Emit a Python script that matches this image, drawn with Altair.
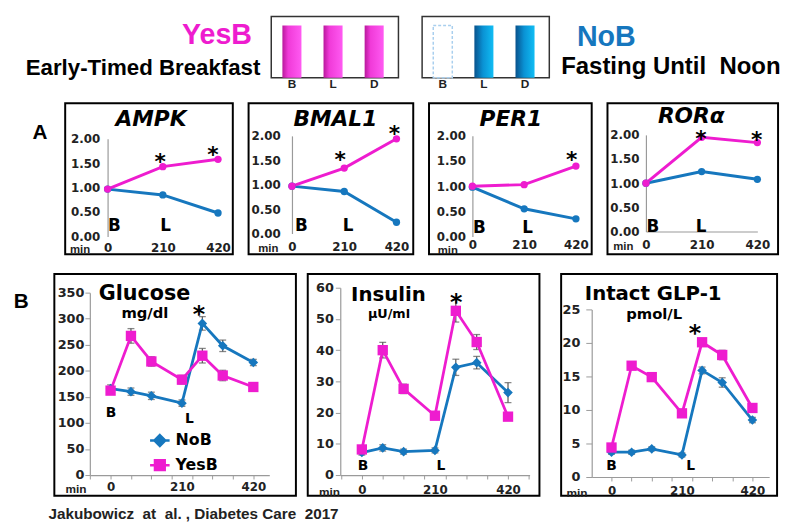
import altair as alt
import pandas as pd

MAGENTA = "#EE1CCF"
BLUE = "#1677BE"
AXIS_GRAY = "#9a9a9a"
DARK = "#222222"
SANS = "DejaVu Sans"
ARIAL = "Liberation Sans"

# ---------------- header data ----------------
meal_names = ["B", "L", "D"]
yes_meals = ["B", "L", "D"]
no_meals = ["L", "D"]
no_skipped = ["B"]

# ---------------- panel A data ----------------
a_times = [0, 210, 420]
a_ticks = [0, 0.5, 1.0, 1.5, 2.0]
ampk_yes = [0.97, 1.43, 1.58]
ampk_no = [0.97, 0.85, 0.48]
bmal1_yes = [0.97, 1.34, 1.94]
bmal1_no = [0.97, 0.86, 0.23]
per1_yes = [1.00, 1.03, 1.40]
per1_no = [0.98, 0.55, 0.35]
rora_yes = [1.00, 1.95, 1.84]
rora_no = [1.00, 1.24, 1.08]
ampk_star_t, ampk_star_v = [200, 401], [1.62, 1.76]
bmal1_star_t, bmal1_star_v = [194, 412], [1.60, 2.14]
per1_star_t, per1_star_v = [403], [1.61]
rora_star_t, rora_star_v = [207, 417], [2.01, 1.99]
meal_marks = ["B", "L"]
ampk_lab_t, ampk_lab_v = [26, 221], [0.22, 0.22]
bmal1_lab_t, bmal1_lab_v = [38, 226], [0.15, 0.15]
per1_lab_t, per1_lab_v = [28, 224], [0.16, 0.16]
rora_lab_t, rora_lab_v = [26, 208], [0.10, 0.10]

# ---------------- panel B data ----------------
b_times = [0, 60, 120, 210, 270, 330, 420]
b_tick_values = [-60, 0, 60, 120, 180, 210, 240, 300, 360, 420, 480]
glu_yes = [162, 267, 218, 183, 229, 191, 169]
glu_yes_err = [7, 14, 9, 8, 14, 10, 6]
glu_no = [166, 160, 152, 138, 291, 248, 216]
glu_no_err = [7, 7, 7, 6, 13, 11, 6]
ins_yes = [8.2, 40.0, 27.6, 19.0, 52.6, 42.6, 18.7]
ins_yes_err = [1.0, 2.5, 1.5, 1.0, 3.6, 2.4, 1.0]
ins_no = [7.2, 8.7, 7.5, 7.9, 34.5, 36.0, 26.4]
ins_no_err = [0.8, 1.0, 0.8, 0.8, 2.6, 2.0, 3.2]
glp_yes = [4.4, 16.6, 14.9, 9.5, 20.1, 18.2, 10.3]
glp_yes_err = [0.5, 0.5, 0.5, 0.5, 0.5, 0.7, 0.5]
glp_no = [3.7, 3.7, 4.2, 3.3, 15.9, 14.1, 8.5]
glp_no_err = [0.3, 0.3, 0.3, 0.3, 0.5, 0.7, 0.4]
glu_ticks = [0, 50, 100, 150, 200, 250, 300, 350]
ins_ticks = [0, 10, 20, 30, 40, 50, 60]
glp_ticks = [0, 5, 10, 15, 20, 25]
glu_star_t, glu_star_v = [260], [320]
ins_star_t, ins_star_v = [271], [57.4]
glp_star_t, glp_star_v = [249], [22.4]
glu_lab_t, glu_lab_v = [1, 232], [119, 108]
ins_lab_t, ins_lab_v = [3, 227], [2.9, 2.9]
glp_lab_t, glp_lab_v = [0, 236], [1.7, 1.7]
series = ["NoB", "YesB"]

# ---------------- helpers ----------------
BOX = alt.ViewBackground(stroke="black", strokeWidth=2)
IND = dict(fill="independent", stroke="independent", shape="independent")


def indep(c):
    return c.resolve_scale(**IND).resolve_legend(**IND)


def txt(s, x, y, size, font=SANS, weight="bold", color="black", align="left",
        baseline="alphabetic", style="normal"):
    return alt.Chart(pd.DataFrame({"s": [s]})).mark_text(
        font=font, fontSize=size, fontWeight=weight, color=color, align=align,
        baseline=baseline, fontStyle=style
    ).encode(text="s:N", x=alt.value(x), y=alt.value(y))


def color_scale():
    return alt.Scale(domain=series, range=[BLUE, MAGENTA])


def panel_a(title, yes, no, star_t, star_v, lab_t, lab_v, g):
    xs = alt.Scale(domain=[0, 420], range=[g["x0"], g["x1"]], nice=False, zero=False)
    ys = alt.Scale(domain=[0, 2], range=[g["y0"], g["y2"]], nice=False, zero=False)
    xax = alt.Axis(values=a_times, title=None, grid=False, ticks=False, tickSize=0,
                   domain=g["xdomain"], domainColor=AXIS_GRAY, domainWidth=1.2,
                   offset=-(g["H"] - g["y0"]), labelPadding=g["xpad"], labelFont=SANS,
                   labelFontWeight="bold", labelFontSize=12, labelColor=DARK,
                   labelFlush=False, labelOverlap=False)
    yax = alt.Axis(values=a_ticks, format=".2f", title=None, grid=False, ticks=False,
                   tickSize=0, domainColor=AXIS_GRAY, domainWidth=1.2, offset=-g["ax"],
                   labelPadding=g["ypad"], labelFont=SANS, labelFontWeight="bold",
                   labelFontSize=12, labelColor=DARK, labelOverlap=False, labelFlush=False)
    X = alt.X("t:Q", scale=xs, axis=xax)
    Y = alt.Y("v:Q", scale=ys, axis=yax)
    df = pd.DataFrame({"t": a_times + a_times, "v": no + yes,
                       "s": ["NoB"] * 3 + ["YesB"] * 3})
    col = alt.Color("s:N", scale=color_scale(), legend=None)
    lines = alt.Chart(df).mark_line(strokeWidth=3).encode(X, Y, col)
    pts = alt.Chart(df).mark_circle(size=55, opacity=1).encode(X, Y, col)
    stars = alt.Chart(pd.DataFrame({"t": star_t, "v": star_v})).mark_text(
        text="*", font=SANS, fontWeight="bold", fontSize=22, baseline="alphabetic",
        dy=12, color="black").encode(X, Y)
    labs = alt.Chart(pd.DataFrame({"t": lab_t, "v": lab_v, "txt": meal_marks})).mark_text(
        font=SANS, fontWeight="bold", fontSize=17, baseline="middle", color="black"
    ).encode(X, Y, text="txt:N")
    ttl = txt(title, g["tx"], g["ty"], 22, align="center", style="italic")
    mn = txt("min", g["minx"], g["miny"], 11.5, font=ARIAL, color=DARK, align="center",
             baseline="middle")
    return alt.layer(lines, pts, stars, labs, ttl, mn).properties(
        width=g["W"], height=g["H"], view=BOX)


DIAMOND_PATH = "M-1.8,0H1.8M0,-1L1,0L0,1L-1,0Z"
SQUARE_PATH = "M-1.8,0H1.8M-0.9,-0.9H0.9V0.9H-0.9Z"


def panel_b(heads, yes, yes_err, no, no_err, ydom, yvals, star_t, star_v,
            lab_t, lab_v, g, legend=None):
    xs = alt.Scale(domain=g["xdom"], range=[g["ax"], g["xend"]], nice=False, zero=False)
    ys = alt.Scale(domain=ydom, range=[g["y0"], g["ytop"]], nice=False, zero=False)
    tv = [v for v in b_tick_values if g["xdom"][0] <= v <= g["xdom"][1]]
    xax = alt.Axis(values=tv, title=None, grid=False, tickSize=4, tickColor=AXIS_GRAY,
                   tickOpacity={"condition": {"test": "datum.value == 210", "value": 0},
                                "value": 1},
                   domainColor=AXIS_GRAY, domainWidth=1.2, offset=-(g["H"] - g["y0"]),
                   labelPadding=g["xpad"], labelFont=SANS, labelFontWeight="bold",
                   labelFontSize=12, labelColor=DARK, labelFlush=False, labelOverlap=False,
                   labelExpr="datum.value == 0 || datum.value == 210 || datum.value == 420 ? datum.label : ''")
    yax = alt.Axis(values=yvals, title=None, grid=False, tickSize=g["ytick"],
                   tickColor=AXIS_GRAY, domainColor=AXIS_GRAY, domainWidth=1.2,
                   offset=-g["ax"], labelPadding=g["ypad"], labelFont=SANS,
                   labelFontWeight="bold", labelFontSize=13, labelColor=DARK,
                   labelOverlap=False, labelFlush=False)
    X = alt.X("t:Q", scale=xs, axis=xax)
    Y = alt.Y("v:Q", scale=ys, axis=yax)
    n = len(b_times)
    df = pd.DataFrame({"t": b_times + b_times, "v": no + yes, "e": no_err + yes_err,
                       "s": ["NoB"] * n + ["YesB"] * n})
    base = alt.Chart(df).transform_calculate(lo="datum.v - datum.e", hi="datum.v + datum.e")
    err = base.mark_rule(color="#555", strokeWidth=1.2).encode(
        X, alt.Y("lo:Q", scale=ys, axis=yax), y2="hi:Q")
    caps = base.transform_fold(["lo", "hi"], as_=["k", "cap"]).mark_tick(
        orient="horizontal", size=7, thickness=1.3, color="#555").encode(
        X, alt.Y("cap:Q", scale=ys, axis=yax))
    lines = alt.Chart(df).mark_line(strokeWidth=2.8).encode(
        X, Y, alt.Color("s:N", scale=color_scale(), legend=None))
    p_no = alt.Chart(df).transform_filter("datum.s == 'NoB'").mark_point(
        shape="diamond", filled=True, size=95, color=BLUE, opacity=1).encode(X, Y)
    p_yes = alt.Chart(df).transform_filter("datum.s == 'YesB'").mark_square(
        size=110, color=MAGENTA, opacity=1).encode(X, Y)
    stars = alt.Chart(pd.DataFrame({"t": star_t, "v": star_v})).mark_text(
        text="*", font=SANS, fontWeight="bold", fontSize=24, baseline="alphabetic",
        dy=14, color="black").encode(X, Y)
    labs = alt.Chart(pd.DataFrame({"t": lab_t, "v": lab_v, "txt": meal_marks})).mark_text(
        font=SANS, fontWeight="bold", fontSize=14, baseline="middle", color="black"
    ).encode(X, Y, text="txt:N")
    layers = [err, caps, lines, p_no, p_yes, stars, labs]
    for (s, size, x, y) in heads:
        layers.append(txt(s, x, y, size))
    layers.append(txt("min", g["minx"], g["xly"] + 2, 12, font=ARIAL, color=DARK,
                      align="center", baseline="middle"))
    if legend is not None:
        lg = alt.Legend(orient="none", legendX=legend[0], legendY=legend[1], title=None,
                        labelFont=SANS, labelFontWeight="bold", labelFontSize=16,
                        labelColor="black", symbolSize=121, symbolStrokeWidth=2.5,
                        labelOffset=8, rowPadding=4, padding=0, symbolOpacity=1)
        leg = alt.Chart(df).mark_point(filled=True, size=0, opacity=0).encode(
            X, Y,
            fill=alt.Fill("s:N", scale=alt.Scale(domain=series, range=[BLUE, MAGENTA]), legend=lg),
            stroke=alt.Stroke("s:N", scale=alt.Scale(domain=series, range=[BLUE, MAGENTA]), legend=lg),
            shape=alt.Shape("s:N", scale=alt.Scale(domain=series, range=[DIAMOND_PATH, SQUARE_PATH]), legend=lg),
        )
        layers.append(leg)
    return alt.layer(*layers).properties(width=g["W"], height=g["H"], view=BOX)


# ---------------- header ----------------
mag_grad = alt.Gradient(gradient="linear", x1=0, y1=0, x2=1, y2=0, stops=[
    alt.GradientStop(offset=0, color="#b8199c"), alt.GradientStop(offset=0.3, color="#f03ad8"),
    alt.GradientStop(offset=1, color="#ff5af2")])
blue_grad = alt.Gradient(gradient="linear", x1=0, y1=0, x2=1, y2=0, stops=[
    alt.GradientStop(offset=0, color="#08528c"), alt.GradientStop(offset=0.45, color="#0a92d4"),
    alt.GradientStop(offset=1, color="#10bdf4")])

meal_x = alt.X("meal:N", sort=meal_names,
               scale=alt.Scale(domain=meal_names, paddingInner=0.537, paddingOuter=0.315, align=0.43),
               axis=alt.Axis(title=None, ticks=False, domain=False, labelAngle=0, labelPadding=1,
                             labelFont=ARIAL, labelFontWeight="bold", labelFontSize=12,
                             labelColor=DARK))
meal_y = alt.Y("h:Q", scale=alt.Scale(domain=[0, 1], range=[62, 9], nice=False, zero=False), axis=None)
HBOX = alt.ViewBackground(stroke="#333", strokeWidth=1.5)

box1 = alt.Chart(pd.DataFrame({"meal": yes_meals, "h": [1] * len(yes_meals)})).mark_bar(
    color=mag_grad).encode(meal_x, meal_y).properties(width=129, height=62, view=HBOX)
box2 = alt.layer(
    alt.Chart(pd.DataFrame({"meal": no_meals, "h": [1] * len(no_meals)})).mark_bar(
        color=blue_grad).encode(meal_x, meal_y),
    alt.Chart(pd.DataFrame({"meal": no_skipped, "h": [1] * len(no_skipped)})).mark_bar(
        fill="white", stroke="#a9cfee", strokeWidth=1.5, strokeDash=[3, 2]).encode(meal_x, meal_y),
).properties(width=129, height=62, view=HBOX)

left_text = alt.layer(
    txt("YesB", 211, 28, 29, font=ARIAL, color=MAGENTA, align="center"),
    txt("Early-Timed Breakfast", 255, 59, 22.6, font=ARIAL, align="right"),
).properties(width=260, height=62)
right_text = alt.layer(
    txt("NoB", 22, 30, 29, font=ARIAL, color=BLUE),
    txt("Fasting Until\u00a0 Noon", 6, 58, 24.3, font=ARIAL),
).properties(width=225, height=62)

header = alt.hconcat(
    alt.hconcat(alt.hconcat(left_text, box1, spacing=4), box2, spacing=22),
    right_text, spacing=4)

# ---------------- row A ----------------
geo_ampk = dict(W=170, H=153, ax=43, y0=135, y2=36, x0=43, x1=155, tx=87, ty=23, miny=149, minx=15, xpad=6, ypad=8, xdomain=False)
geo_bmal1 = dict(W=167, H=153, ax=44, y0=132, y2=33, x0=44, x1=150, tx=88, ty=23, miny=148, minx=20, xpad=8, ypad=12, xdomain=False)
geo_per1 = dict(W=165, H=153, ax=44, y0=135, y2=33, x0=44, x1=149, tx=83, ty=23, miny=149.5, minx=19, xpad=3, ypad=7, xdomain=False)
geo_rora = dict(W=173, H=153, ax=39, y0=130, y2=32, x0=39, x1=152, tx=85, ty=20, miny=146, minx=16, xpad=8, ypad=7, xdomain=True)

label_a = txt("A", 31.5, 36, 21, font=ARIAL, align="center").properties(width=41, height=153)
row_a = alt.hconcat(
    label_a,
    panel_a("AMPK", ampk_yes, ampk_no, ampk_star_t, ampk_star_v, ampk_lab_t, ampk_lab_v, geo_ampk),
    panel_a("BMAL1", bmal1_yes, bmal1_no, bmal1_star_t, bmal1_star_v, bmal1_lab_t, bmal1_lab_v, geo_bmal1),
    panel_a("PER1", per1_yes, per1_no, per1_star_t, per1_star_v, per1_lab_t, per1_lab_v, geo_per1),
    panel_a("RORα", rora_yes, rora_no, rora_star_t, rora_star_v, rora_lab_t, rora_lab_v, geo_rora),
    spacing=14)

# ---------------- row B ----------------
geo_glu = dict(W=245, H=225, ax=36, xend=218, xdom=[-61, 467], y0=204, ytop=19, xly=216, minx=22, xpad=3, ytick=5, ypad=1)
geo_ins = dict(W=235, H=225, ax=33, xend=225, xdom=[-62, 482], y0=204, ytop=14, xly=219, minx=22, xpad=6, ytick=5, ypad=2)
geo_glp = dict(W=219, H=225, ax=31, xend=211, xdom=[-59, 470], y0=206, ytop=36, xly=220, minx=16, xpad=5, ytick=6, ypad=6)

glucose = panel_b([("Glucose", 21, 45, 26), ("mg/dl", 15, 68, 45)],
                  glu_yes, glu_yes_err, glu_no, glu_no_err, [0, 350], glu_ticks,
                  glu_star_t, glu_star_v, glu_lab_t, glu_lab_v, geo_glu, legend=(99, 161))
insulin = panel_b([("Insulin", 20, 44, 27), ("µU/ml", 13, 61, 45)],
                  ins_yes, ins_yes_err, ins_no, ins_no_err, [0, 60], ins_ticks,
                  ins_star_t, ins_star_v, ins_lab_t, ins_lab_v, geo_ins)
glp = panel_b([("Intact GLP-1", 20, 24, 26), ("pmol/L", 15, 66, 46)],
              glp_yes, glp_yes_err, glp_no, glp_no_err, [0, 25], glp_ticks,
              glp_star_t, glp_star_v, glp_lab_t, glp_lab_v, geo_glp)

label_b = txt("B", 12.5, 35, 21, font=ARIAL, align="center").properties(width=34, height=225)
row_b = indep(alt.hconcat(indep(alt.hconcat(label_b, glucose, insulin, spacing=10)), glp, spacing=20))

footer = txt("Jakubowicz\u00a0 at\u00a0 al. , Diabetes Care\u00a0 2017", 40, 18, 15.5,
             font=ARIAL, color=DARK).properties(width=400, height=20)

chart = indep(alt.vconcat(
    indep(alt.vconcat(alt.vconcat(header, row_a, spacing=12), row_b, spacing=16)),
    footer, spacing=1
)).properties(
    padding={"left": 0, "top": 4, "right": 0, "bottom": 0}
).configure_view(stroke="transparent")

chart.save("out.html", embed_options={"renderer": "svg", "actions": False})
